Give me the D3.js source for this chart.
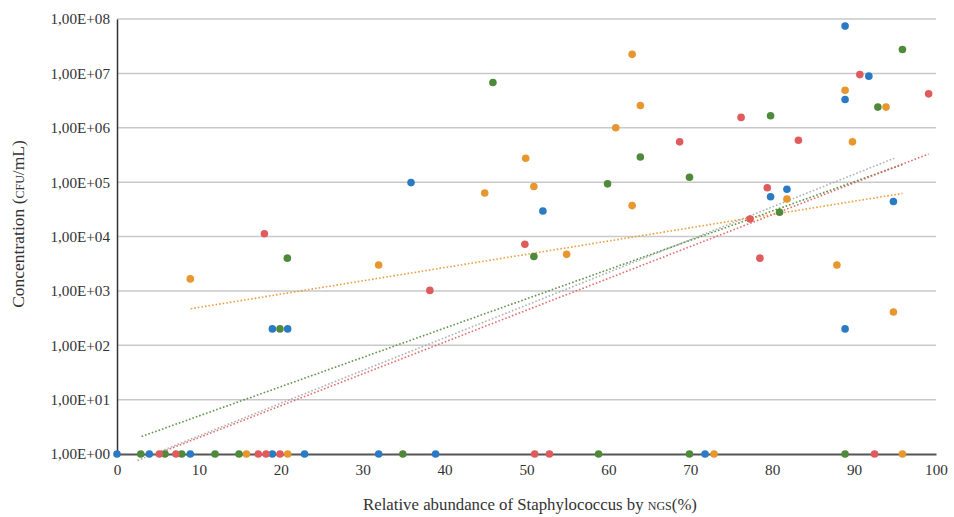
<!DOCTYPE html>
<html>
<head>
<meta charset="utf-8">
<script src="https://cdn.jsdelivr.net/npm/d3@7"></script>
<style>
  html, body { margin: 0; padding: 0; background: #fff; }
  svg { display: block; }
  text { font-family: "Liberation Serif", "DejaVu Serif", serif; fill: #333; }
</style>
</head>
<body>
<svg id="chart" width="954" height="517"></svg>
<script>
// ---- Data (x = relative abundance %, y = concentration CFU/mL) ----
const blueX  = [0, 3.95, 8.95, 18.97, 22.9, 31.95, 38.9, 71.8, 18.97, 20.84, 88.9, 35.9, 52.0, 79.8, 81.8, 94.8, 88.9, 91.8, 88.9];
const blueY  = [1, 1, 1, 1, 1, 1, 1, 1, 200, 200, 200, 9.8e4, 2.95e4, 5.4e4, 7.4e4, 4.4e4, 3.3e6, 8.9e6, 7.4e7];

const orangeX = [15.8, 20.84, 72.9, 95.9, 8.95, 31.95, 44.9, 49.9, 50.9, 54.9, 60.9, 62.9, 62.9, 63.9, 81.8, 87.9, 88.9, 89.8, 93.9, 94.8];
const orangeY = [1, 1, 1, 1, 1.66e3, 3.0e3, 6.3e4, 2.75e5, 8.3e4, 4.7e3, 1.0e6, 2.24e7, 3.7e4, 2.57e6, 4.9e4, 3.0e3, 4.9e6, 5.5e5, 2.4e6, 4.1e2];

const greenX = [2.9, 5.86, 7.9, 11.97, 14.9, 34.9, 58.8, 69.9, 88.9, 19.9, 20.8, 45.9, 50.9, 59.9, 63.9, 69.9, 79.8, 80.9, 92.9, 95.9];
const greenY = [1, 1, 1, 1, 1, 1, 1, 1, 1, 200, 4.0e3, 6.8e6, 4.3e3, 9.3e4, 2.9e5, 1.23e5, 1.66e6, 2.8e4, 2.4e6, 2.75e7];

const redX = [5.17, 7.2, 17.25, 18.2, 19.9, 51.0, 52.8, 92.5, 18.0, 38.2, 49.8, 68.7, 76.2, 77.3, 78.5, 79.4, 83.2, 90.7, 99.1];
const redY = [1, 1, 1, 1, 1, 1, 1, 1, 1.12e4, 1.02e3, 7.2e3, 5.5e5, 1.55e6, 2.1e4, 4.0e3, 7.9e4, 5.9e5, 9.5e6, 4.2e6];

// Trendline endpoints (exponential fits): [[x0, y0], [x1, y1]]
const blueTrend   = [[2.5, 0.76], [94.9, 2.75e5]];
const greenTrend  = [[3.0, 2.1],  [96.0, 2.14e5]];
const redTrend    = [[5.2, 1.05], [99.1, 3.3e5]];
const orangeTrend = [[9.0, 470],  [95.9, 6.2e4]];

const xTicks = [0, 10, 20, 30, 40, 50, 60, 70, 80, 90, 100];
const yTicks = [1e0, 1e1, 1e2, 1e3, 1e4, 1e5, 1e6, 1e7, 1e8];
const yTickLabels = ["1,00E+00", "1,00E+01", "1,00E+02", "1,00E+03", "1,00E+04", "1,00E+05", "1,00E+06", "1,00E+07", "1,00E+08"];

// ---- Layout ----
const svg = d3.select("#chart");
const mLeft = 117, mRight = 936, mTop = 19, mBottom = 454;

const x = d3.scaleLinear().domain([0, 100]).range([mLeft, mRight]);
const y = d3.scaleLog().domain([1, 1e8]).range([mBottom, mTop]);

// Gridlines
svg.append("g")
  .selectAll("line")
  .data(yTicks.filter(d => d > 1))
  .join("line")
  .attr("x1", mLeft).attr("x2", mRight)
  .attr("y1", d => y(d)).attr("y2", d => y(d))
  .attr("stroke", "#c9c9c9")
  .attr("stroke-width", 1.5);

// Y axis (labels only + line)
const yAxis = d3.axisLeft(y).tickValues(yTicks)
  .tickFormat((d, i) => yTickLabels[i]).tickSize(0).tickPadding(7);
const gy = svg.append("g").attr("transform", `translate(${mLeft},0)`).call(yAxis);
gy.select(".domain").attr("stroke", "#333").attr("stroke-width", 1.5);
gy.selectAll("text").style("font-size", "15.2px").style("font-family", "'Liberation Serif', serif").attr("fill", "#333");

// X axis
const xAxis = d3.axisBottom(x).tickValues(xTicks).tickFormat(d3.format("d")).tickSize(0).tickPadding(10);
const gx = svg.append("g").attr("transform", `translate(0,${mBottom})`).call(xAxis);
gx.select(".domain").attr("stroke", "#555").attr("stroke-width", 2);
gx.selectAll("text").style("font-size", "15.2px").style("font-family", "'Liberation Serif', serif").attr("fill", "#333");

// Trendlines
const line = d3.line().x(d => x(d[0])).y(d => y(d[1]));
const trends = [
  { data: blueTrend, color: "#a9a9a9" },
  { data: greenTrend, color: "#4e8a3a" },
  { data: redTrend, color: "#e06060" },
  { data: orangeTrend, color: "#e8952d" }
];
svg.append("g").selectAll("path")
  .data(trends)
  .join("path")
  .attr("d", d => line(d.data))
  .attr("fill", "none")
  .attr("stroke", d => d.color)
  .attr("stroke-width", 1.6)
  .attr("stroke-dasharray", "1.6,2")
  .attr("opacity", 0.9);

// Points
const series = [
  { xs: blueX, ys: blueY, color: "#2a7bc3" },
  { xs: orangeX, ys: orangeY, color: "#e8962e" },
  { xs: greenX, ys: greenY, color: "#4f8a3b" },
  { xs: redX, ys: redY, color: "#e05c5c" }
];
series.forEach(s => {
  const pts = s.xs.map((v, i) => [v, s.ys[i]]);
  svg.append("g").selectAll("circle")
    .data(pts)
    .join("circle")
    .attr("cx", d => x(d[0]))
    .attr("cy", d => y(d[1]))
    .attr("r", 3.8)
    .attr("fill", s.color);
});

// Axis titles
const yt = svg.append("text")
  .attr("transform", `translate(24,224) rotate(-90)`)
  .attr("text-anchor", "middle")
  .style("font-size", "17.5px");
yt.append("tspan").text("Concentration (");
yt.append("tspan").style("font-variant", "small-caps").text("cfu");
yt.append("tspan").text("/mL)");

const xt = svg.append("text")
  .attr("x", 530).attr("y", 510)
  .attr("text-anchor", "middle")
  .style("font-size", "16.8px");
xt.append("tspan").text("Relative abundance of Staphylococcus by ");
xt.append("tspan").style("font-variant", "small-caps").text("ngs");
xt.append("tspan").text("(%)");
</script>
</body>
</html>
